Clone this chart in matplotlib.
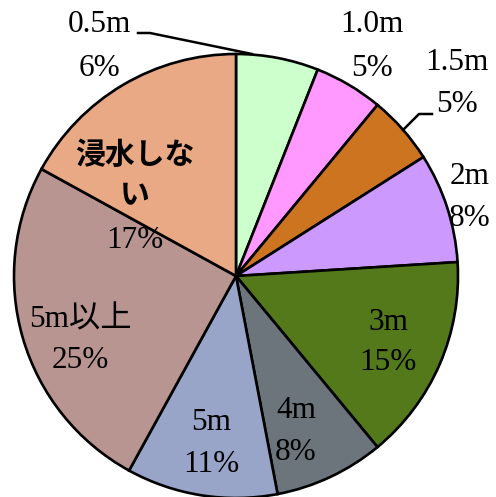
import matplotlib.pyplot as plt

# inundation depth share
labels = ["0.5m", "1.0m", "1.5m", "2m", "3m", "4m", "5m", "5m以上", "浸水しない"]
shares = [6, 5, 5, 8, 15, 8, 11, 25, 17]
colors = ["#ccffcc", "#ff99ff", "#cc7420", "#cc99ff", "#53791a",
          "#6b757b", "#99a5c8", "#b99592", "#e9a985"]

plt.rcParams['font.family'] = ['Liberation Serif', 'Noto Sans CJK JP']

fig = plt.figure(figsize=(4.96, 4.97), dpi=100)
ax = fig.add_axes([0, 0, 1, 1])

cx, cy, r = 236, 221, 222
ax.pie(shares, colors=colors, startangle=90, counterclock=False,
       center=(cx, cy), radius=r, frame=True,
       wedgeprops=dict(edgecolor='black', linewidth=1.9))
ax.set_xlim(0, 496)
ax.set_ylim(0, 497)
ax.set_aspect('auto')
ax.axis('off')

# label text positions (x, name y, percent y)
pos = [(99, 472, 429), (372, 472, 429), (457, 434, 392), (470, 320, 279),
       (388, 174, 134), (296, 86, 45), (211, 74, 33), (80, 177, 136),
       (135, 0, 257)]
fs = 22.5
for name, v, (x, y1, y2) in zip(labels, shares, pos):
    if name == "浸水しない":
        ax.text(x, 342, "浸水しな", ha='center', va='center', fontsize=fs - 1,
                fontweight='bold', family=['Noto Sans CJK JP'])
        ax.text(x, 302, "い", ha='center', va='center', fontsize=fs - 1,
                fontweight='bold', family=['Noto Sans CJK JP'])
    else:
        ax.text(x, y1, name, ha='center', va='center', fontsize=fs)
    ax.text(x, y2, f"{v}%", ha='center', va='center', fontsize=fs)

# leader lines for the two small outer labels
ax.plot([138, 150, 252], [464, 464, 443], color='black', lw=1.8)
ax.plot([403, 419, 432], [367, 383, 383], color='black', lw=1.8)

fig.savefig("out.png", dpi=100)
